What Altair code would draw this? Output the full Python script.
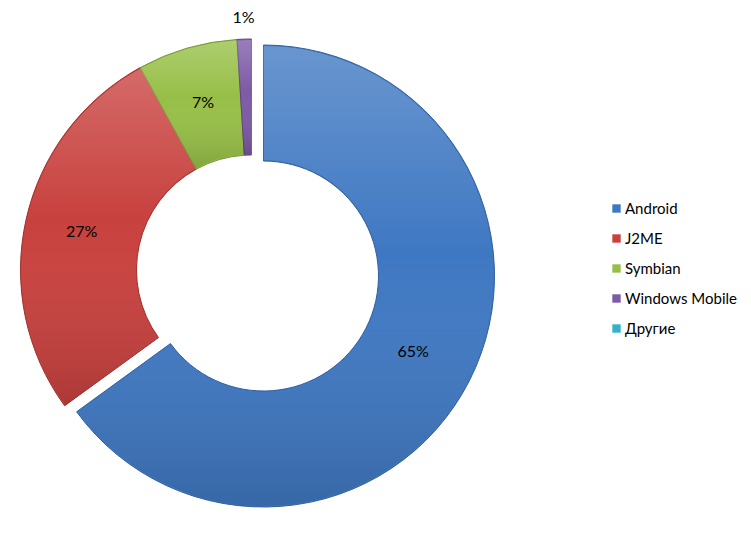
import altair as alt
import pandas as pd

categories = ["Android", "J2ME", "Symbian", "Windows Mobile", "Другие"]
shares = [65, 27, 7, 1, 0]
colors = ["#3f78c2", "#c8413e", "#97bf47", "#7d5aa6", "#35b0cc"]
edge_colors = ["#2f5f9e", "#9e2f2d", "#76963a", "#5e4380", "#2a8aa0"]

df = pd.DataFrame({"category": categories, "share": shares, "order": list(range(len(categories)))})

FONT = "Lato"
CX, CY = 243.5, 262.0
DX, DY = 12, 6
R_OUT, R_IN = 231, 115

base = alt.Chart(df).transform_window(
    cum="sum(share)", sort=[{"field": "order"}], frame=[None, 0]
).transform_calculate(
    start="datum.cum - datum.share",
    mid="datum.cum - datum.share / 2",
    label="datum.share + '%'",
)

theta_scale = alt.Scale(domain=[0, 100])
color_enc = alt.Color(
    "category:N",
    scale=alt.Scale(domain=categories, range=colors),
    sort=categories,
    legend=alt.Legend(
        title=None, orient="none", legendX=601, legendY=193,
        symbolType="square", symbolSize=70, symbolStrokeWidth=0,
        labelFont=FONT, labelFontSize=15, labelColor="#000000",
        rowPadding=14, labelOffset=1, labelLimit=200,
    ),
)
stroke_enc = alt.Stroke("category:N", scale=alt.Scale(domain=categories, range=edge_colors), legend=None)

grad = alt.LinearGradient(
    gradient="linear", x1=0, x2=0, y1=0, y2=1,
    stops=[
        alt.GradientStop(color="rgba(255,255,255,0.22)", offset=0),
        alt.GradientStop(color="rgba(255,255,255,0.0)", offset=0.45),
        alt.GradientStop(color="rgba(0,0,0,0.14)", offset=1),
    ],
)

def arcs(filt, cx, cy):
    b = base.transform_filter(filt)
    main = b.mark_arc(outerRadius=R_OUT, innerRadius=R_IN, strokeWidth=1).encode(
        theta=alt.Theta("start:Q", scale=theta_scale),
        theta2="cum:Q",
        color=color_enc,
        stroke=stroke_enc,
        x=alt.value(cx), y=alt.value(cy),
    )
    shade = b.mark_arc(outerRadius=R_OUT - 1, innerRadius=R_IN + 1, color=grad).encode(
        theta=alt.Theta("start:Q", scale=theta_scale),
        theta2="cum:Q",
        x=alt.value(cx), y=alt.value(cy),
    )
    return main, shade

rest_main, rest_shade = arcs("datum.category != 'Android'", CX, CY)
and_main, and_shade = arcs("datum.category == 'Android'", CX + DX, CY + DY)

txt = dict(font=FONT, fontSize=16, color="#000000")

labels_big_rest = base.transform_filter(
    "datum.category != 'Android' && datum.share >= 3"
).mark_text(radius=174, **txt).encode(
    theta=alt.Theta("mid:Q", scale=theta_scale), text="label:N",
    x=alt.value(CX), y=alt.value(CY),
)
labels_small = base.transform_filter(
    "datum.share > 0 && datum.share < 3"
).mark_text(radius=252, **txt).encode(
    theta=alt.Theta("mid:Q", scale=theta_scale), text="label:N",
    x=alt.value(CX), y=alt.value(CY),
)
labels_android = base.transform_filter(
    "datum.category == 'Android'"
).mark_text(radius=168, **txt).encode(
    theta=alt.Theta("mid:Q", scale=theta_scale), text="label:N",
    x=alt.value(CX + DX), y=alt.value(CY + DY),
)

chart = alt.layer(
    rest_main, rest_shade, and_main, and_shade, labels_big_rest, labels_small, labels_android
).properties(
    width=735, height=519, autosize=alt.AutoSizeParams(type="none"), padding=0,
).configure(background="#ffffff").configure_view(stroke=None, strokeWidth=0)

chart.save("out.html", embed_options={"renderer": "svg", "actions": False})
